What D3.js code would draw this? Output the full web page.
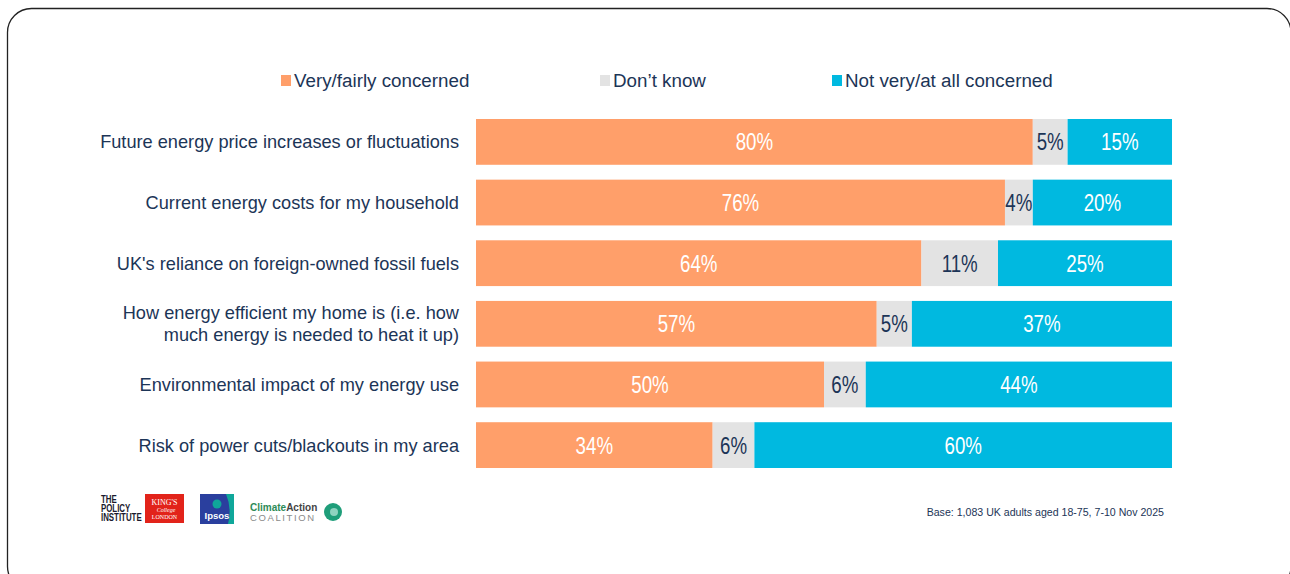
<!DOCTYPE html>
<html>
<head>
<meta charset="utf-8">
<script src="https://cdn.jsdelivr.net/npm/d3@7"></script>
<style>
  html, body { margin: 0; padding: 0; background: #fff; }
  svg { display: block; }
</style>
</head>
<body>
<svg id="chart" width="1290" height="574"></svg>
<script>
// Concern about energy issues, UK adults
const categories = [
  "Future energy price increases or fluctuations",
  "Current energy costs for my household",
  "UK's reliance on foreign-owned fossil fuels",
  "How energy efficient my home is (i.e. how|much energy is needed to heat it up)",
  "Environmental impact of my energy use",
  "Risk of power cuts/blackouts in my area"
];
const seriesNames = ["Very/fairly concerned", "Don\u2019t know", "Not very/at all concerned"];
const concerned    = [80, 76, 64, 57, 50, 34];
const dontKnow     = [5, 4, 11, 5, 6, 6];
const notConcerned = [15, 20, 25, 37, 44, 60];
const baseNote = "Base: 1,083 UK adults aged 18-75, 7-10 Nov 2025";

const colors = ["#FF9F6A", "#E3E3E3", "#00B9E0"];
const labelColors = ["#FFFFFF", "#1C3557", "#FFFFFF"];
const navy = "#1C3557";
const sans = "'Liberation Sans', Arial, sans-serif";

const svg = d3.select("#chart");

// rounded frame
svg.append("rect")
  .attr("x", 7.5).attr("y", 8.5)
  .attr("width", 1283.5).attr("height", 582)
  .attr("rx", 24).attr("ry", 24)
  .attr("fill", "none").attr("stroke", "#222").attr("stroke-width", 1.3);

const keys = ["c", "d", "n"];
const rows = categories.map((cat, i) => ({ cat, c: concerned[i], d: dontKnow[i], n: notConcerned[i] }));
const stack = d3.stack().keys(keys).offset(d3.stackOffsetExpand);
const layers = stack(rows);

const x = d3.scaleLinear().domain([0, 1]).range([476, 1172]);
const y = d3.scaleBand().domain(categories).range([119, 468]).paddingInner(0.245).paddingOuter(0);

const g = svg.append("g");
layers.forEach((layer, li) => {
  const lg = g.append("g");
  lg.selectAll("rect").data(layer).join("rect")
    .attr("x", d => x(d[0]))
    .attr("y", d => y(d.data.cat))
    .attr("width", d => x(d[1]) - x(d[0]))
    .attr("height", y.bandwidth())
    .attr("fill", colors[li]);
  // condensed value labels
  lg.selectAll("text").data(layer).join("text")
    .attr("transform", d => `translate(${(x(d[0]) + x(d[1])) / 2},${y(d.data.cat) + y.bandwidth() / 2 + 8.5}) scale(0.78,1)`)
    .attr("text-anchor", "middle")
    .attr("font-family", sans)
    .attr("font-size", 24)
    .attr("fill", labelColors[li])
    .text(d => d.data[keys[li]] + "%");
});

// category labels
const cl = svg.append("g");
categories.forEach(cat => {
  const lines = cat.split("|");
  const cy = y(cat) + y.bandwidth() / 2;
  const lh = 22;
  lines.forEach((ln, k) => {
    cl.append("text")
      .attr("x", 459)
      .attr("y", cy + 6.5 + (k - (lines.length - 1) / 2) * lh)
      .attr("text-anchor", "end")
      .attr("font-family", sans)
      .attr("font-size", 18.2)
      .attr("fill", navy)
      .text(ln);
  });
});

// legend
const legendX = [281, 600, 832];
const leg = svg.append("g");
seriesNames.forEach((name, i) => {
  leg.append("rect").attr("x", legendX[i]).attr("y", 75).attr("width", 10).attr("height", 11).attr("fill", colors[i]);
  leg.append("text").attr("x", legendX[i] + 13).attr("y", 87)
    .attr("font-family", sans)
    .attr("font-size", 18.8).attr("fill", navy).text(name);
});

// base note
svg.append("text").attr("x", 1164).attr("y", 516).attr("text-anchor", "end")
  .attr("font-family", sans)
  .attr("font-size", 10.6).attr("fill", navy).text(baseNote);

// partner logos
const logos = svg.append("g");
const pi = logos.append("text").attr("transform", "translate(101,0) scale(0.75,1)")
  .attr("font-family", sans).attr("font-weight", "bold").attr("font-size", 10.5).attr("fill", "#1a1a2e");
["THE", "POLICY", "INSTITUTE"].forEach((t, k) => pi.append("tspan").attr("x", 0).attr("y", 503 + k * 9).text(t));
logos.append("rect").attr("x", 145).attr("y", 494).attr("width", 39).attr("height", 29).attr("fill", "#E2231A");
const kc = logos.append("text").attr("font-family", "'Liberation Serif', serif").attr("fill", "#fff").attr("text-anchor", "middle");
kc.append("tspan").attr("x", 164.5).attr("y", 505).attr("font-size", 8).text("KING'S");
kc.append("tspan").attr("x", 166).attr("y", 512).attr("font-size", 6).attr("font-style", "italic").text("College");
kc.append("tspan").attr("x", 164.5).attr("y", 519).attr("font-size", 6).text("LONDON");
logos.append("rect").attr("x", 200).attr("y", 494).attr("width", 34).attr("height", 30).attr("fill", "#2A3F9E");
logos.append("path").attr("d", "M226,494 L234,494 L234,524 L228,524 Q232,508 226,494 Z").attr("fill", "#0FA79A");
logos.append("circle").attr("cx", 217).attr("cy", 504).attr("r", 4.5).attr("fill", "#0FA79A");
logos.append("text").attr("x", 217).attr("y", 519).attr("text-anchor", "middle")
  .attr("font-family", sans).attr("font-size", 9.5).attr("font-weight", "bold").attr("fill", "#fff").text("Ipsos");
const ca = logos.append("text").attr("font-family", sans);
ca.append("tspan").attr("x", 250).attr("y", 511).attr("font-size", 10).attr("font-weight", "bold").attr("fill", "#2E8B57").text("Climate");
ca.append("tspan").attr("font-size", 10).attr("font-weight", "bold").attr("fill", "#444").text("Action");
logos.append("text").attr("x", 250).attr("y", 521).attr("font-family", sans)
  .attr("font-size", 9.5).attr("letter-spacing", 1.6).attr("fill", "#8a8a8a").text("COALITION");
logos.append("circle").attr("cx", 333).attr("cy", 512).attr("r", 9).attr("fill", "#1F9E7A");
logos.append("circle").attr("cx", 334).attr("cy", 512).attr("r", 4).attr("fill", "#8FD3C0");
</script>
</body>
</html>
